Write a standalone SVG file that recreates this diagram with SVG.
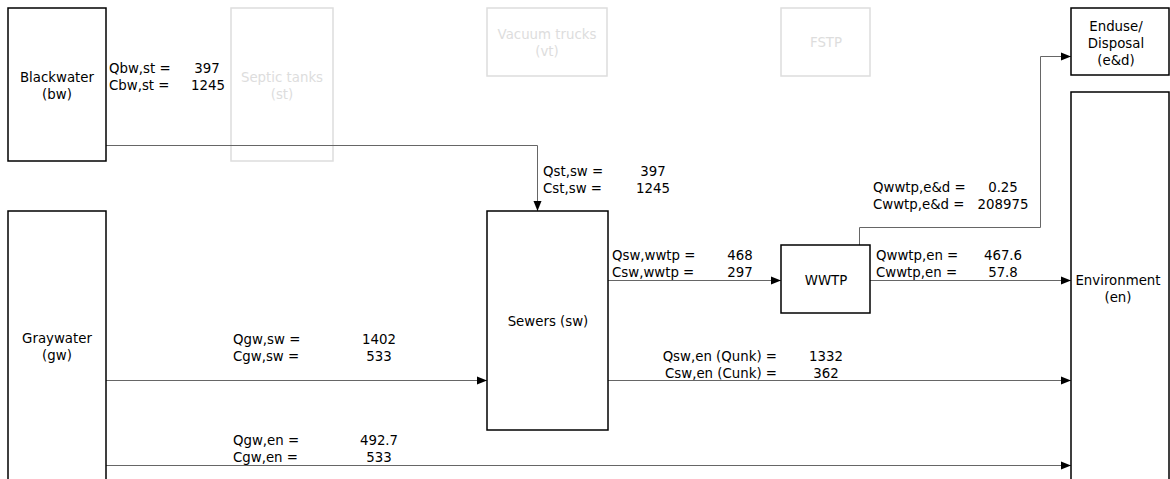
<svg xmlns="http://www.w3.org/2000/svg" width="1170" height="479" viewBox="0 0 1170 479">
<style>
text{font-family:"DejaVu Sans","Verdana",sans-serif;font-size:13.33px;fill:#000}
.box{fill:#fff;stroke:#000;stroke-width:1.5}
.ghost{fill:none;stroke:#ddd;stroke-width:1.5}
.gt{fill:#ddd}
.c{text-anchor:middle}
.e{text-anchor:end}
.ln{fill:none;stroke:#666;stroke-width:1}
</style>
<defs>
<marker id="arr" markerUnits="userSpaceOnUse" markerWidth="10" markerHeight="10" viewBox="0 0 10 10" refX="10" refY="5" orient="auto">
<path d="M0,1 L10,5 L0,9 Z" fill="#000"/>
</marker>
</defs>
<rect width="1170" height="479" fill="#fff"/>
<g id="st"><rect class="ghost" x="231" y="8" width="102" height="153"/><text class="c gt" x="282" y="82">Septic tanks</text><text class="c gt" x="282" y="99">(st)</text></g>
<g id="vt"><rect class="ghost" x="487" y="8" width="120" height="68"/><text class="c gt" x="547" y="39">Vacuum trucks</text><text class="c gt" x="547" y="56">(vt)</text></g>
<g id="fstp"><rect class="ghost" x="781" y="8" width="89" height="68"/><text class="c gt" x="826" y="47">FSTP</text></g>
<g id="connectors">
<polyline class="ln" points="106,145.5 537.5,145.5 537.5,211" marker-end="url(#arr)"/>
<line class="ln" x1="106" y1="380.5" x2="487" y2="380.5" marker-end="url(#arr)"/>
<line class="ln" x1="106" y1="465.5" x2="1071" y2="465.5" marker-end="url(#arr)"/>
<line class="ln" x1="608" y1="280.5" x2="781" y2="280.5" marker-end="url(#arr)"/>
<line class="ln" x1="608" y1="380.5" x2="1071" y2="380.5" marker-end="url(#arr)"/>
<line class="ln" x1="870" y1="280.5" x2="1071" y2="280.5" marker-end="url(#arr)"/>
<polyline class="ln" points="859.5,245 859.5,227.5 1040.5,227.5 1040.5,56.5 1071,56.5" marker-end="url(#arr)"/>
<g id="labels">
<text x="109" y="73">Qbw,st =</text><text class="c" x="207" y="73">397</text>
<text x="109" y="90">Cbw,st =</text><text class="c" x="208" y="90">1245</text>
<text x="543" y="176">Qst,sw =</text><text class="c" x="653" y="176">397</text>
<text x="543" y="193">Cst,sw =</text><text class="c" x="653" y="193">1245</text>
<text x="233" y="344">Qgw,sw =</text><text class="c" x="379" y="344">1402</text>
<text x="233" y="361">Cgw,sw =</text><text class="c" x="379" y="361">533</text>
<text x="233" y="445">Qgw,en =</text><text class="c" x="379" y="445">492.7</text>
<text x="233" y="462">Cgw,en =</text><text class="c" x="379" y="462">533</text>
<text x="612" y="260">Qsw,wwtp =</text><text class="c" x="740" y="260">468</text>
<text x="612" y="277">Csw,wwtp =</text><text class="c" x="740" y="277">297</text>
<text class="e" x="777" y="361">Qsw,en (Qunk) =</text><text class="c" x="826" y="361">1332</text>
<text class="e" x="777" y="378">Csw,en (Cunk) =</text><text class="c" x="826" y="378">362</text>
<text x="876" y="260">Qwwtp,en =</text><text class="c" x="1003" y="260">467.6</text>
<text x="876" y="277">Cwwtp,en =</text><text class="c" x="1003" y="277">57.8</text>
<text x="873" y="192">Qwwtp,e&amp;d =</text><text class="c" x="1003" y="192">0.25</text>
<text x="873" y="209">Cwwtp,e&amp;d =</text><text class="c" x="1003" y="209">208975</text>
</g>
</g>
<g id="bw"><rect class="box" x="8" y="8" width="98" height="153"/><text class="c" x="57" y="82">Blackwater</text><text class="c" x="57" y="99">(bw)</text></g>
<g id="ed"><rect class="box" x="1071" y="8" width="98" height="67"/><text class="c" x="1116" y="31">Enduse/</text><text class="c" x="1116" y="48">Disposal</text><text class="c" x="1116" y="65">(e&amp;d)</text></g>
<g id="en"><rect class="box" x="1071" y="92" width="98" height="400"/><text class="c" x="1118" y="285">Environment</text><text class="c" x="1118" y="302">(en)</text></g>
<g id="gw"><rect class="box" x="8" y="211" width="98" height="280"/><text class="c" x="57" y="343">Graywater</text><text class="c" x="57" y="360">(gw)</text></g>
<g id="sw"><rect class="box" x="487" y="211" width="121" height="219"/><text class="c" x="548" y="326">Sewers (sw)</text></g>
<g id="wwtp"><rect class="box" x="781" y="245" width="89" height="68"/><text class="c" x="826" y="285">WWTP</text></g>
</svg>
